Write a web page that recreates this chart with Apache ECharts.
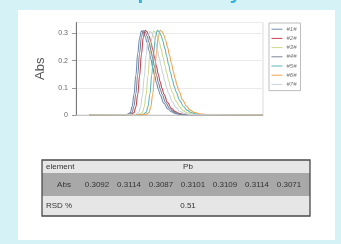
<!DOCTYPE html>
<html><head><meta charset="utf-8">
<script src="https://cdn.jsdelivr.net/npm/echarts@6/dist/echarts.min.js"></script>
<style>html,body{margin:0;padding:0;background:#d5f3f7}#c{width:341px;height:244px}</style>
</head><body><div id="c"></div>
<script>
// ---- data ----
var seriesNames = ['#1#','#2#','#3#','#4#','#5#','#6#','#7#'];
var s1 = [[7,0],[27,0.001],[29,0.008],[30,0.03],[31,0.075],[32,0.145],[33,0.225],[34,0.284],[35,0.3092],[36,0.304],[37,0.289],[38,0.266],[39,0.238],[40,0.207],[41,0.176],[42,0.146],[43,0.119],[44,0.095],[45,0.074],[47,0.043],[49,0.023],[51,0.012],[53,0.006],[56,0.002],[61,0.001],[100,0]];
var s2 = [[7,0],[29,0.001],[31,0.008],[32,0.03],[33,0.074],[34,0.143],[35,0.224],[36,0.286],[37,0.3114],[38,0.306],[39,0.291],[40,0.27],[41,0.242],[42,0.211],[43,0.18],[44,0.15],[45,0.122],[46,0.098],[47,0.077],[49,0.046],[51,0.025],[53,0.013],[55,0.006],[58,0.002],[63,0.001],[100,0]];
var s3 = [[7,0],[33.5,0.001],[35.5,0.008],[36.5,0.03],[37.5,0.074],[38.5,0.144],[39.5,0.223],[40.5,0.283],[41.5,0.3087],[42.5,0.304],[43.5,0.29],[44.5,0.269],[45.5,0.243],[46.5,0.214],[47.5,0.184],[48.5,0.155],[49.5,0.128],[50.5,0.104],[51.5,0.083],[53.5,0.051],[55.5,0.029],[57.5,0.015],[59.5,0.008],[62.5,0.003],[67.5,0.001],[100,0]];
var s4 = [[7,0],[28,0.001],[30,0.009],[31,0.032],[32,0.078],[33,0.148],[34,0.228],[35,0.287],[36,0.3101],[37,0.305],[38,0.29],[39,0.268],[40,0.24],[41,0.209],[42,0.178],[43,0.148],[44,0.121],[45,0.097],[46,0.076],[48,0.045],[50,0.025],[52,0.013],[54,0.006],[57,0.002],[62,0.001],[100,0]];
var s5 = [[7,0],[35.5,0.001],[37.5,0.009],[38.5,0.031],[39.5,0.076],[40.5,0.147],[41.5,0.227],[42.5,0.287],[43.5,0.3109],[44.5,0.306],[45.5,0.292],[46.5,0.271],[47.5,0.245],[48.5,0.216],[49.5,0.186],[50.5,0.157],[51.5,0.13],[52.5,0.106],[53.5,0.085],[55.5,0.053],[57.5,0.031],[59.5,0.017],[61.5,0.009],[64.5,0.003],[69.5,0.001],[100,0]];
var s6 = [[7,0],[37,0.001],[39,0.008],[40,0.03],[41,0.075],[42,0.146],[43,0.227],[44,0.288],[45,0.3114],[46,0.307],[47,0.293],[48,0.273],[49,0.248],[50,0.22],[51,0.19],[52,0.161],[53,0.134],[54,0.11],[55,0.089],[57,0.056],[59,0.033],[61,0.018],[63,0.01],[66,0.004],[71,0.001],[100,0]];
var s7 = [[7,0],[31.5,0.001],[33.5,0.008],[34.5,0.029],[35.5,0.072],[36.5,0.14],[37.5,0.22],[38.5,0.281],[39.5,0.3071],[40.5,0.302],[41.5,0.288],[42.5,0.267],[43.5,0.24],[44.5,0.21],[45.5,0.18],[46.5,0.151],[47.5,0.124],[48.5,0.1],[49.5,0.079],[51.5,0.048],[53.5,0.027],[55.5,0.014],[57.5,0.007],[60.5,0.002],[65.5,0.001],[100,0]];
var seriesData = [s1,s2,s3,s4,s5,s6,s7];
var yTicks = [0, 0.1, 0.2, 0.3];
var titleText = 'Repeatability';
var tableElementLabel = 'element';
var tableElement = 'Pb';
var absLabel = 'Abs';
var absValues = ['0.3092','0.3114','0.3087','0.3101','0.3109','0.3114','0.3071'];
var rsdLabel = 'RSD %';
var rsdValue = '0.51';

// ---- styles ----
var colors = ['#6f8db3','#c8424e','#cfd98a','#7b8797','#5fb6b8','#f0a24e','#c9d3de'];
var fontFam = '"Liberation Sans", Arial, sans-serif';

var series = seriesData.map(function(d,i){
  return {name: seriesNames[i], type:'line', data:d, symbol:'none', smooth:0.4, smoothMonotone:'x',
    lineStyle:{width:1.1, color:colors[i]}, itemStyle:{color:colors[i]}, z: 3};
});

// table graphics
var tL=42, tR=310, r0=160, r1=173, r2=196, r3=216;
var absX=64, valX=[97,129,161,193,225,257,289], midX=188;
function txt(x,y,t,align){
  return {type:'text', x:x, y:y, style:{text:t, fill:'#333', font:'8px '+fontFam, align:align, verticalAlign:'middle', textAlign:align, textVerticalAlign:'middle'}};
}
var g = [
  {type:'rect', shape:{x:18,y:10,width:317,height:230}, style:{fill:'#ffffff'}, z:-10},
  {type:'text', x:176, y:-7, style:{text:titleText, fill:'#35b3d6', font:'bold 21px '+fontFam, align:'center', verticalAlign:'middle', textAlign:'center', textVerticalAlign:'middle'}, z:5},
  {type:'rect', shape:{x:tL,y:r0,width:tR-tL,height:r1-r0}, style:{fill:'#e6e6e6'}},
  {type:'rect', shape:{x:tL,y:r1,width:tR-tL,height:r2-r1}, style:{fill:'#a8a8a8'}},
  {type:'rect', shape:{x:tL,y:r2,width:tR-tL,height:r3-r2}, style:{fill:'#e6e6e6'}},
  {type:'rect', shape:{x:tL,y:r0,width:tR-tL,height:r3-r0}, style:{fill:'none', stroke:'#4a4a4a', lineWidth:1.3}},
  txt(46,(r0+r1)/2+0.5,tableElementLabel,'left'),
  txt(midX,(r0+r1)/2+0.5,tableElement,'center'),
  txt(absX,(r1+r2)/2,absLabel,'center'),
  txt(46,(r2+r3)/2,rsdLabel,'left'),
  txt(midX,(r2+r3)/2,rsdValue,'center')
];
absValues.forEach(function(v,i){ g.push(txt(valX[i],(r1+r2)/2,v,'center')); });

var chart = echarts.init(document.getElementById('c'), null, {renderer:'canvas'});
chart.setOption({
  backgroundColor:'#d5f3f7',
  animation:false,
  textStyle:{fontFamily:fontFam},
  grid:{left:76, top:22.5, right:78, bottom:129, show:true, borderColor:'#dcdcdc', borderWidth:1, backgroundColor:'#fff'},
  legend:{orient:'vertical', left:269, top:23, data:seriesNames, itemWidth:11, itemHeight:8, itemGap:2.8,
    padding:[3,4,3,2], backgroundColor:'#fff', borderColor:'#bdbdbd', borderWidth:1,
    itemStyle:{opacity:0}, lineStyle:{width:1},
    textStyle:{fontSize:6, color:'#777', fontStyle:'italic', padding:[0,0,0,-1]}},
  xAxis:{type:'value', min:0, max:100, axisLabel:{show:false}, axisTick:{show:false}, splitLine:{show:false},
    axisLine:{lineStyle:{color:'#c8c8c8'}}},
  yAxis:{type:'value', min:0, max:0.34, interval:0.1, name:'Abs', nameLocation:'middle', nameGap:29,
    nameTextStyle:{fontSize:13, color:'#555'},
    axisLine:{show:true, lineStyle:{color:'#777'}}, axisTick:{show:true, length:4, lineStyle:{color:'#999'}},
    axisLabel:{fontSize:7, color:'#666', margin:8, showMaxLabel:false,
      formatter:function(v){ var r=Math.round(v*10)/10; return (yTicks.indexOf(r)>=0 && Math.abs(v-r)<1e-6) ? String(r) : ''; }},
    splitLine:{lineStyle:{color:'#eaeaea'}}},
  graphic:g,
  series:series
});
</script></body></html>
